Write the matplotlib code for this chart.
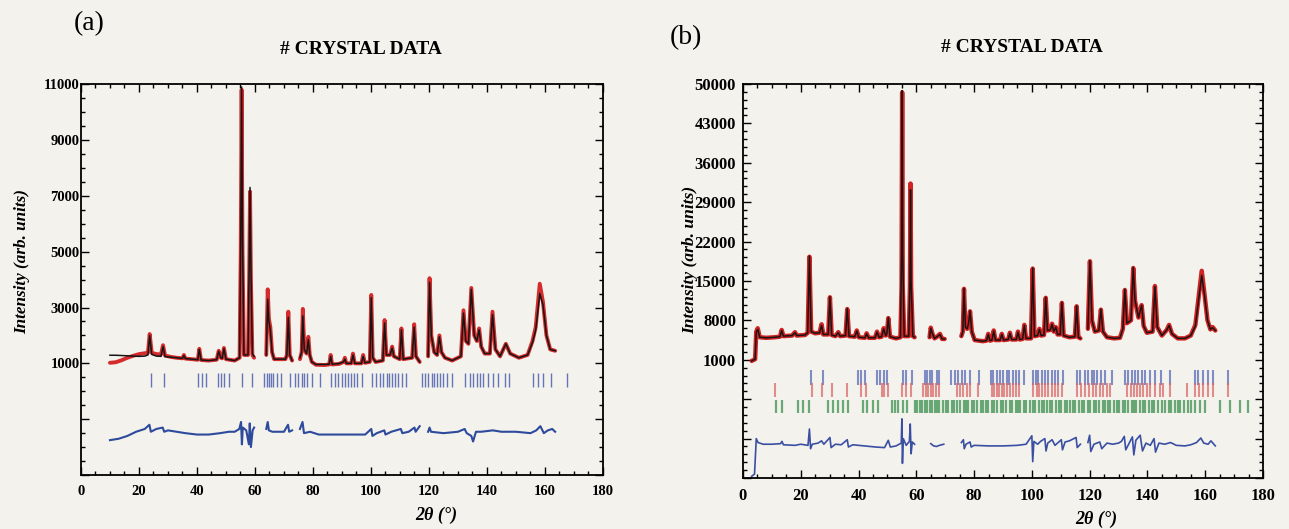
import numpy as np
import matplotlib
matplotlib.use('Agg')
import matplotlib.pyplot as plt
from matplotlib.ticker import FixedLocator, MultipleLocator, FuncFormatter

nan = np.nan

# ---- panel (a): observed / calculated profile (2theta, intensity) ----
a_tt = [10.0, 12.0, 14.0, 16.0, 18.0, 20.0, 22.0, 23.1, 23.7, 24.4, 26.0, 27.6, 28.3, 29.0,
        31.0, 33.0, 35.0, 35.5, 36.0, 38.0, 40.3, 40.8, 41.4, 44.0, 46.8, 47.5, 48.2, 48.7,
        49.3, 50.0, 53.0, 54.7, 55.1, 55.4, 55.7, 56.2, 57.6, 58.0, 58.3, 58.6, 59.1, 59.7, nan,
        63.9, 64.4, 64.8, 65.3, 65.9, 66.6, 70.5, 71.0, 71.5, 72.0, 72.8, nan,
        75.5, 76.1, 76.5, 77.0, 77.8, 78.4, 78.9, 79.6, 81.0, 84.0, 85.6, 86.1, 86.6, 89.0,
        90.5, 91.0, 91.5, 93.2, 93.8, 94.4, 96.7, 97.3, 97.9, 99.6, 100.1, 100.6, 101.6, 104.1,
        104.7, 105.3, 106.6, 107.3, 107.9, 109.9, 110.5, 111.1, 114.2, 114.9, 115.5, 116.8, nan,
        119.7, 120.2, 120.8, 121.8, 122.8, 123.6, 124.3, 125.5, 128.0, 131.0, 131.9, 132.7,
        133.6, 134.6, 135.6, 136.5, 137.3, 138.0, 139.2, 141.0, 141.9, 142.9, 144.5, 146.5,
        148.0, 151.0, 154.0, 155.7, 156.8, 158.2, 159.3, 160.5, 161.8, 163.5]
a_obs = [1020, 1040, 1110, 1200, 1270, 1330, 1360, 1380, 2050, 1380, 1330, 1320, 1650, 1280,
         1230, 1200, 1180, 1300, 1170, 1150, 1130, 1520, 1120, 1100, 1130, 1450, 1200, 1180,
         1550, 1150, 1100, 1200, 5000, 10800, 5000, 1300, 1300, 4000, 7150, 4000, 1300, 1200, nan,
         1300, 3650, 2600, 2300, 1400, 1150, 1150, 1300, 2850, 1300, 1100, nan,
         1150, 1400, 2950, 1500, 1350, 1950, 1300, 1050, 950, 940, 960, 1300, 960, 980,
         1050, 1200, 1000, 1000, 1350, 1000, 1000, 1300, 1020, 1050, 3450, 1200, 1050, 1100,
         2550, 1300, 1300, 1600, 1250, 1150, 2250, 1150, 1200, 2400, 1250, 1050, nan,
         1250, 4050, 2000, 1400, 1300, 2000, 1400, 1200, 1100, 1250, 2900, 1800,
         1700, 3700, 2000, 1800, 2250, 1600, 1350, 1350, 2850, 1500, 1250, 1700,
         1350, 1200, 1300, 1800, 2300, 3850, 3200, 2000, 1500, 1450]
a_calc = [1290, 1290, 1280, 1270, 1260, 1250, 1260, 1300, 2000, 1320, 1260, 1250, 1600, 1240,
          1220, 1200, 1180, 1280, 1170, 1150, 1130, 1500, 1120, 1100, 1130, 1430, 1200, 1180,
          1530, 1150, 1100, 1200, 5500, 10900, 5500, 1300, 1300, 4500, 7300, 4500, 1350, 1250, nan,
          1300, 3300, 2500, 2200, 1400, 1150, 1150, 1300, 2650, 1300, 1100, nan,
          1200, 1400, 2700, 1500, 1350, 1850, 1300, 1050, 960, 960, 970, 1250, 970, 990,
          1050, 1150, 1000, 1000, 1300, 1000, 1000, 1250, 1020, 1050, 3350, 1200, 1050, 1100,
          2450, 1300, 1300, 1550, 1250, 1150, 2200, 1150, 1200, 2300, 1250, 1050, nan,
          1250, 3900, 2000, 1400, 1300, 1950, 1400, 1200, 1100, 1250, 2800, 1800,
          1700, 3650, 2000, 1800, 2200, 1600, 1350, 1350, 2750, 1500, 1250, 1700,
          1350, 1200, 1300, 1750, 2200, 3500, 3100, 2000, 1500, 1450]

# difference curve (a)
a_dtt = [10, 13, 16, 19, 22, 23.6, 24.1, 26, 28.2, 28.7, 30, 33, 36, 40, 44, 48, 51, 53,
         54.6, 55.2, 55.5, 55.8, 57.0, 57.9, 58.2, 58.6, 59.2, 59.7, nan,
         63.9, 64.4, 64.8, 66, 70, 71.4, 71.8, 72.8, nan,
         75.5, 76.4, 76.9, 79, 82, 88, 94, 98, 100.1, 100.5, 102, 104.6, 105, 107, 110.3,
         110.8, 113, 115.0, 115.4, 116.8, nan,
         119.7, 120.2, 120.7, 125, 130, 132.3, 133.0, 134.6, 135.2, 136.2, 138, 142, 145,
         150, 155, 157, 158.4, 159.6, 161, 162.5, 163.5]
a_diff = [-1750, -1700, -1600, -1450, -1350, -1200, -1450, -1350, -1300, -1450, -1400, -1450,
          -1500, -1550, -1550, -1500, -1450, -1450, -1350, -1100, -1900, -1300, -1400, -1900,
          -1150, -2000, -1400, -1300, nan,
          -1350, -1100, -1400, -1450, -1450, -1200, -1450, -1400, nan,
          -1350, -1100, -1500, -1450, -1550, -1550, -1550, -1550, -1350, -1600, -1500, -1400,
          -1550, -1450, -1350, -1500, -1450, -1300, -1450, -1250, nan,
          -1450, -1300, -1450, -1500, -1450, -1350, -1500, -1600, -1800, -1450, -1450, -1400,
          -1450, -1450, -1500, -1400, -1250, -1500, -1400, -1350, -1450]

# Bragg reflection positions (a)
a_bragg = [24.0, 28.6, 40.2, 41.6, 43.1, 47.4, 48.2, 49.3, 51.0, 55.7, 58.9, 63.2, 64.0, 64.7,
           65.4, 66.3, 67.5, 69.0, 72.1, 73.8, 74.9, 76.1, 76.9, 77.8, 79.7, 82.4, 86.1, 87.6,
           88.7, 89.9, 91.0, 92.2, 93.0, 94.1, 95.3, 96.8, 100.2, 101.9, 103.1, 104.2, 105.4,
           106.3, 107.2, 108.3, 109.4, 110.6, 112.1, 117.5, 118.6, 119.8, 120.9, 121.7, 122.6,
           123.8, 124.9, 126.3, 127.8, 132.4, 134.1, 135.3, 136.4, 137.6, 138.7, 140.5, 142.0,
           143.9, 146.2, 147.7, 155.7, 157.7, 159.4, 162.0, 167.5]

# ---- panel (b) ----
b_tt = [3.0, 4.2, 4.6, 5.1, 5.8, 8.0, 11.0, 12.8, 13.4, 14.0, 17.0, 18.0, 18.6, 21.5, 22.4,
        23.0, 23.6, 25.0, 26.5, 27.2, 27.8, 29.5, 30.1, 30.7, 32.0, 33.0, 33.6, 35.5, 36.1,
        36.7, 38.7, 39.4, 40.1, 42.2, 42.8, 43.5, 45.7, 46.4, 47.1, 48.0, 48.7, 49.4, 49.8,
        50.3, 50.9, 53.0, 54.5, 54.9, 55.1, 55.3, 55.8, 57.4, 57.8, 58.0, 58.2, 58.8, 59.4, nan,
        64.6, 65.0, 65.6, 66.3, 67.2, 68.2, 68.9, 69.8, nan,
        75.6, 76.1, 76.5, 77.0, 77.6, 78.1, 78.6, 79.2, 80.2, 83.0, 84.3, 84.9, 85.5, 86.2,
        86.8, 87.4, 89.0, 89.6, 90.2, 91.8, 92.4, 93.0, 94.6, 95.2, 95.8, 96.8, 97.4, 98.0,
        99.7, 100.3, 100.9, 102.0, 102.6, 103.2, 104.2, 104.8, 105.4, 106.4, 107.0, 107.6,
        108.3, 108.9, 109.8, 110.4, 111.0, 113.0, 114.9, 115.5, 116.1, 116.8, nan,
        119.4, 120.1, 120.8, 121.8, 123.2, 123.9, 124.6, 126.0, 128.5, 130.5, 131.5, 132.2,
        132.9, 134.3, 135.1, 135.7, 136.3, 136.9, 138.0, 138.7, 139.8, 141.8, 142.6, 143.4,
        145.0, 146.7, 147.5, 148.5, 150.5, 153.0, 155.0, 156.6, 157.8, 158.8, 159.8, 160.8,
        161.8, 162.6, 163.5]
b_obs = [800, 1100, 6000, 6600, 5000, 4900, 5000, 5100, 6300, 5200, 5300, 5900, 5300, 5400, 5800,
         19300, 6000, 5700, 5800, 7300, 5500, 5500, 12100, 5400, 5200, 5900, 5200, 5300, 10000,
         5200, 5100, 6200, 5000, 4900, 5700, 4900, 4900, 6000, 5000, 5100, 6600, 5300, 5600,
         8400, 5100, 4800, 5000, 14000, 48500, 14000, 5200, 5200, 14000, 32300, 14000, 5200, 5000, nan,
         5000, 6700, 5600, 4800, 5100, 5600, 4700, 4700, nan,
         5200, 6000, 13600, 6800, 6500, 7500, 9600, 6000, 4500, 4300, 4400, 5600, 4400, 4500,
         6200, 4500, 4500, 5600, 4500, 4600, 5800, 4600, 4600, 6000, 4600, 4700, 7200, 4800,
         4800, 17200, 5200, 5300, 6500, 5300, 5400, 12000, 6200, 6300, 7400, 6000,
         6800, 5500, 5500, 11100, 5300, 5000, 5100, 10500, 5000, 4800, nan,
         6500, 18500, 8000, 6000, 6200, 9900, 6000, 5000, 4800, 4900, 6500, 13400,
         7500, 8000, 17300, 11500, 10000, 8500, 10700, 7000, 5800, 6000, 14100, 6800,
         5300, 6300, 7200, 5600, 4800, 4800, 5300, 7200, 12500, 16800, 12500, 8000,
         6400, 6800, 6200]
b_calc = [800, 1100, 6000, 6400, 5000, 4900, 5000, 5100, 6200, 5200, 5300, 5800, 5300, 5400, 5800,
          19400, 6000, 5700, 5800, 7100, 5500, 5500, 12200, 5400, 5200, 5800, 5200, 5300, 10100,
          5200, 5100, 6100, 5000, 4900, 5600, 4900, 4900, 5900, 5000, 5100, 6500, 5300, 5600,
          8500, 5100, 4800, 5000, 20000, 48800, 20000, 5200, 5200, 15000, 31200, 15000, 5200, 5000, nan,
          5000, 6600, 5600, 4800, 5100, 5500, 4700, 4700, nan,
          5200, 6000, 13700, 6800, 6500, 7500, 9700, 6000, 4500, 4300, 4400, 5500, 4400, 4500,
          6100, 4500, 4500, 5500, 4500, 4600, 5700, 4600, 4600, 5900, 4600, 4700, 7100, 4800,
          4800, 17300, 5200, 5300, 6400, 5300, 5400, 12100, 6200, 6300, 7300, 6000,
          6800, 5500, 5500, 11200, 5300, 5000, 5100, 10600, 5000, 4800, nan,
          6500, 18600, 8000, 6000, 6200, 10000, 6000, 5000, 4800, 4900, 6500, 13500,
          7500, 8000, 17400, 11600, 10000, 8500, 10700, 7000, 5800, 6000, 14000, 6800,
          5300, 6300, 7100, 5600, 4800, 4800, 5300, 7000, 12000, 16000, 12300, 8000,
          6400, 6700, 6200]

b_dtt = [3.0, 4.0, 4.6, 5.2, 7.0, 10.0, 13.0, 13.5, 14.0, 18.0, 20.0, 22.5, 23.0, 23.4, 24.0,
         26.0, 27.2, 28.0, 30.1, 30.5, 32.0, 34.0, 36.1, 36.5, 38.0, 42.0, 46.0, 49.0, 50.3,
         51.0, 53.0, 54.8, 55.0, 55.2, 55.5, 56.5, 57.6, 57.9, 58.2, 58.6, 59.4, nan,
         65.0, 66.0, 67.0, 68.0, 69.5, nan,
         75.6, 76.3, 76.6, 77.2, 78.6, 79.0, 80.0, 85.0, 90.0, 95.0, 98.0, 100.0, 100.3, 100.7,
         102.0, 103.0, 104.5, 104.9, 105.5, 107.0, 108.0, 110.2, 110.6, 111.5, 113.0, 115.3,
         115.7, 116.8, nan,
         119.4, 120.0, 120.4, 121.5, 123.5, 124.2, 126.0, 128.0, 130.0, 131.0, 132.0, 132.5,
         133.5, 134.8, 135.3, 136.0, 137.5, 138.3, 139.5, 141.0, 142.3, 142.8, 144.0, 146.0,
         148.0, 150.0, 153.0, 155.0, 157.0, 158.5, 159.5, 161.0, 162.0, 163.5]
b_diff = [-19700, -19300, -13000, -13700, -14000, -14000, -13900, -13500, -14100, -14200, -14000,
          -14200, -11300, -14800, -14000, -13800, -13400, -14000, -12800, -14600, -14000, -14100,
          -13200, -14500, -14100, -14300, -14500, -14600, -13300, -14500, -14300, -13800, -9500,
          -17400, -13000, -14200, -13500, -10400, -15700, -13600, -14000, nan,
          -13900, -14300, -14400, -14200, -14000, nan,
          -13700, -13200, -14800, -14000, -13600, -14500, -14200, -14300, -14300, -14200, -14000,
          -12500, -17100, -13500, -14000, -13500, -13000, -15200, -13800, -13200, -14200, -13200,
          -15000, -13600, -13400, -12800, -14600, -14000, nan,
          -13700, -12400, -15300, -14000, -13600, -14800, -13800, -14000, -13800, -13500, -12600,
          -15000, -14000, -12700, -15900, -13300, -12400, -15200, -13800, -14200, -13000, -15400,
          -13800, -14000, -13700, -14200, -14300, -14100, -13700, -12900, -13800, -14000, -13400,
          -14300]

# three phases of reflection markers (b)
b_bragg_blue = [23.4, 27.8, 39.9, 40.7, 42.2, 46.5, 47.4, 48.8, 49.7, 55.3, 56.3, 58.4, 63.0, 63.8,
                64.7, 65.6, 67.0, 68.0, 71.9, 73.4, 74.5, 75.9, 76.8, 78.6, 81.8, 85.7, 86.6, 87.8,
                88.9, 90.1, 91.3, 92.2, 93.3, 94.5, 95.7, 97.4, 100.3, 101.4, 102.2, 103.4, 104.5,
                105.7, 106.9, 108.0, 109.2, 110.7, 115.5, 116.7, 118.4, 119.5, 120.7, 121.5, 122.4,
                123.8, 125.3, 127.6, 132.2, 133.4, 134.5, 135.7, 136.8, 138.0, 139.2, 140.9, 142.6,
                144.6, 147.8, 156.5, 157.6, 159.4, 161.1, 162.6, 168.0]
b_bragg_red = [11.1, 23.8, 27.2, 30.7, 35.9, 40.7, 42.6, 48.0, 48.8, 50.3, 54.9, 56.6, 58.0, 62.4,
               63.3, 64.2, 65.0, 65.9, 66.8, 68.0, 74.0, 75.1, 76.0, 77.4, 78.6, 81.5, 86.1, 86.9,
               87.8, 88.7, 89.5, 90.5, 91.3, 92.4, 93.3, 94.5, 95.7, 100.5, 101.7, 102.6, 103.4,
               104.5, 105.7, 106.8, 108.0, 109.2, 110.6, 115.5, 116.9, 118.4, 119.9, 121.0, 122.2,
               123.6, 124.7, 125.9, 127.0, 132.8, 134.2, 135.3, 136.5, 137.4, 138.6, 139.7, 140.9,
               142.6, 144.3, 145.5, 147.8, 153.6, 156.5, 158.0, 159.4, 161.1, 162.6, 168.0]
b_bragg_green = [11.4, 13.4, 19.2, 20.9, 23.0, 29.5, 31.3, 33.0, 34.7, 36.5, 41.7, 42.8, 45.1, 46.8,
                 51.5, 52.6, 53.8, 55.5, 56.7, 59.5, 60.4, 61.3, 62.0, 62.9, 63.8, 64.6, 65.5, 66.3,
                 67.2, 68.0, 69.1, 70.2, 71.0, 72.3, 73.1, 74.0, 75.2, 76.4, 77.1, 78.0, 79.2, 80.1,
                 81.0, 82.3, 83.1, 84.0, 84.9, 86.2, 87.0, 88.1, 89.3, 90.0, 91.2, 92.3, 93.0, 94.4,
                 95.1, 96.0, 97.2, 98.1, 99.4, 100.5, 101.2, 102.3, 103.5, 104.2, 105.1, 106.3,
                 107.0, 108.2, 109.4, 110.1, 111.3, 112.0, 113.2, 114.4, 115.1, 116.3, 117.2, 118.0,
                 119.3, 120.2, 121.4, 122.1, 123.3, 124.5, 125.2, 126.4, 127.1, 128.3, 129.5, 130.2,
                 131.4, 132.1, 133.3, 134.5, 135.2, 136.1, 137.3, 138.5, 139.2, 140.4, 141.6, 142.3,
                 143.5, 145.0, 146.2, 147.4, 148.3, 149.5, 150.6, 151.4, 152.8, 154.0, 155.1, 156.5,
                 158.2, 159.9, 165.1, 168.6, 172.0, 174.9]

a_yticks = [-3000, -1000, 1000, 3000, 5000, 7000, 9000, 11000]
b_yticks = [-20000, -13000, -6000, 1000, 8000, 15000, 22000, 29000, 36000, 43000, 50000]

paper = '#f4f2ec'
plt.rcParams['font.family'] = ['Liberation Serif', 'DejaVu Serif']
plt.rcParams['axes.unicode_minus'] = False


def style_axes(ax, ylim, yticks, yminor, offset, ypad, fs):
    ax.set_facecolor(paper)
    ax.set_xlim(0, 180)
    ax.set_ylim(*ylim)
    ax.xaxis.set_major_locator(MultipleLocator(20))
    ax.xaxis.set_minor_locator(MultipleLocator(5))
    ax.yaxis.set_major_locator(FixedLocator(yticks))
    ax.yaxis.set_minor_locator(MultipleLocator(yminor, offset=offset))
    # only the upper (profile) part of the axis carries numbers
    ax.yaxis.set_major_formatter(FuncFormatter(lambda v, p: f'{v:.0f}' if v >= 1000 else ''))
    ax.tick_params(which='both', direction='in', top=True, right=True, width=1.0)
    ax.tick_params(which='major', length=6)
    ax.tick_params(which='minor', length=3)
    ax.tick_params(axis='x', pad=7, labelsize=fs)
    ax.tick_params(axis='y', pad=ypad, labelsize=fs)
    for lbl in ax.get_xticklabels() + ax.get_yticklabels():
        lbl.set_fontweight('bold')
    for s in ax.spines.values():
        s.set_linewidth(1.3)


fig = plt.figure(figsize=(12.89, 5.29), dpi=100, facecolor=paper)

# (a)
ax1 = fig.add_axes([0.0628, 0.102, 0.405, 0.739])
ax1.plot(a_tt, a_obs, color='#d42c2c', lw=2.8, solid_capstyle='round', zorder=2)
ax1.plot(a_tt, a_calc, color='#151515', lw=1.1, zorder=3)
ax1.plot(a_dtt, a_diff, color='#2d4a9c', lw=1.5, zorder=2)
ax1.vlines(a_bragg, 150, 650, color='#4d5fb0', lw=1.0, alpha=0.85)
style_axes(ax1, (-3000, 11000), a_yticks, 500, 0, 1, 10.5)
ax1.set_xlabel('2θ (°)', fontsize=13, fontweight='bold', fontstyle='italic', va='center')
ax1.xaxis.set_label_coords(0.68, -0.102)
ax1.set_ylabel('Intensity (arb. units)', fontsize=12.3, fontweight='bold', fontstyle='italic',
               va='center')
ax1.yaxis.set_label_coords(-0.113, 0.547)

# (b)
ax2 = fig.add_axes([0.5764, 0.0964, 0.4034, 0.745])
ax2.plot(b_tt, b_obs, color='#cf2424', lw=3.2, solid_capstyle='round', zorder=2)
ax2.plot(b_tt, b_calc, color='#1c1212', lw=1.1, zorder=3)
ax2.plot(b_dtt, b_diff, color='#3a4fa3', lw=1.2, zorder=2)
ax2.vlines(b_bragg_blue, -3400, -800, color='#5a6cb8', lw=1.5, alpha=0.75)
ax2.vlines(b_bragg_red, -5600, -3200, color='#d86a6a', lw=1.5, alpha=0.75)
ax2.vlines(b_bragg_green, -8500, -6100, color='#2f8a45', lw=1.6, alpha=0.7)
style_axes(ax2, (-20000, 50000), b_yticks, 1400, 1000, 5, 12)
ax2.set_xlabel('2θ (°)', fontsize=13, fontweight='bold', fontstyle='italic', va='center')
ax2.xaxis.set_label_coords(0.68, -0.105)
ax2.set_ylabel('Intensity (arb. units)', fontsize=12.6, fontweight='bold', fontstyle='italic',
               va='center')
ax2.yaxis.set_label_coords(-0.102, 0.553)

fig.text(361 / 1289, 1 - 49 / 529, '# CRYSTAL DATA', ha='center', va='center',
         fontsize=14, fontweight='bold')
fig.text(1022 / 1289, 1 - 48 / 529, '# CRYSTAL DATA', ha='center', va='center',
         fontsize=14, fontweight='bold')
fig.text(89 / 1289, 1 - 24 / 529, '(a)', ha='center', va='center', fontsize=20)
fig.text(686 / 1289, 1 - 38 / 529, '(b)', ha='center', va='center', fontsize=20)

fig.savefig('out.png', dpi=100, facecolor=paper)
